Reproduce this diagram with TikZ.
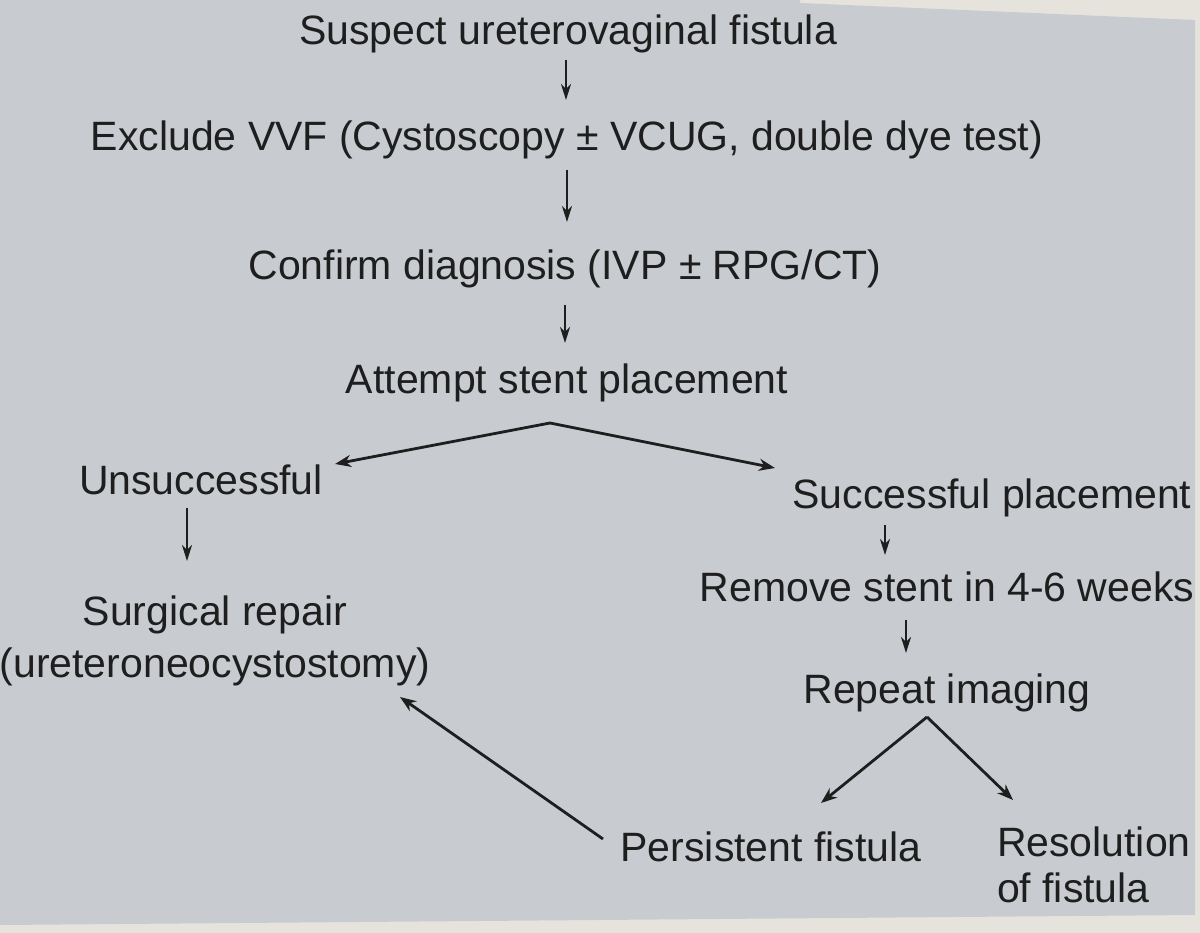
\documentclass[tikz,border=0pt]{standalone}
\usepackage{fontspec}
\setmainfont{Liberation Sans}
\usetikzlibrary{arrows.meta,calc}
\definecolor{paper}{HTML}{C8CCD0}
\definecolor{edge}{HTML}{E6E3DC}
\definecolor{ink}{HTML}{1E1E1E}
\tikzset{
  lbl/.style={inner sep=0pt, outer sep=0pt, anchor=base, text=ink,
    font=\fontsize{41}{52}\selectfont},
  arr/.style={draw=ink, line width=2.3pt, -{Stealth[length=16pt,width=10pt,inset=5pt]}},
  brarr/.style={draw=ink, line width=2.8pt, -{Stealth[length=16pt,width=12pt,inset=5pt]}}
}
\begin{document}
\begin{tikzpicture}[x=1pt,y=-1pt]
\useasboundingbox (0,0) rectangle (1200,933);
% page background
\fill[edge] (0,0) rectangle (1200,933);
\fill[paper] (0,0) -- (800,0) -- (800,3) -- (1195,20) -- (1195,915) -- (0,925) -- cycle;

% nodes
\node[lbl] (n1) at (568,45) {Suspect ureterovaginal fistula};
\node[lbl] (n2) at (567,151) {Exclude VVF (Cystoscopy ± VCUG, double dye test)};
\node[lbl] (n3) at (565,280) {Confirm diagnosis (IVP ± RPG/CT)};
\node[lbl] (n4) at (567,394) {Attempt stent placement};
\node[lbl] (n5) at (201,494) {Unsuccessful};
\node[lbl] (n6) at (992,508) {Successful placement};
\node[lbl, align=center] (n7) at (215,677) {Surgical repair\\(ureteroneocystostomy)};
\node[lbl] (n8) at (947,601) {Remove stent in 4-6 weeks};
\node[lbl] (n9) at (947,703) {Repeat imaging};
\node[lbl] (n10) at (771,861) {Persistent fistula};
\node[lbl, anchor=base west, align=left, font=\fontsize{41}{46}\selectfont] (n11) at (997,902) {Resolution\\of fistula};

% vertical connectors
\draw[arr] ([shift={(-2,15)}]n1.base) -- ([shift={(-1,-51)}]n2.base);
\draw[arr] ([shift={(0,19)}]n2.base) -- ([shift={(2,-58)}]n3.base);
\draw[arr] ([shift={(0,25)}]n3.base) -- ([shift={(-2,-51)}]n4.base);
\draw[arr] ([shift={(-14,14)}]n5.base) -- ([shift={(-28,-116)}]n7.base);
\draw[arr] ([shift={(-107,17)}]n6.base) -- ([shift={(-62,-46)}]n8.base);
\draw[arr] ([shift={(-41,19)}]n8.base) -- ([shift={(-41,-50)}]n9.base);

% branches
\coordinate (b1) at ([shift={(-17,29)}]n4.base);
\draw[brarr] (b1) -- ([shift={(134,-30)}]n5.base);
\draw[brarr] (b1) -- ([shift={(-217,-40)}]n6.base);
\coordinate (b2) at ([shift={(-20,14)}]n9.base);
\draw[brarr] (b2) -- ([shift={(50,-58)}]n10.base);
\draw[brarr] (b2) -- ([shift={(16,-102)}]n11.base west);

% back to surgery
\draw[brarr] ([shift={(-168,-22)}]n10.base) -- ([shift={(185,20)}]n7.base);
\end{tikzpicture}
\end{document}
